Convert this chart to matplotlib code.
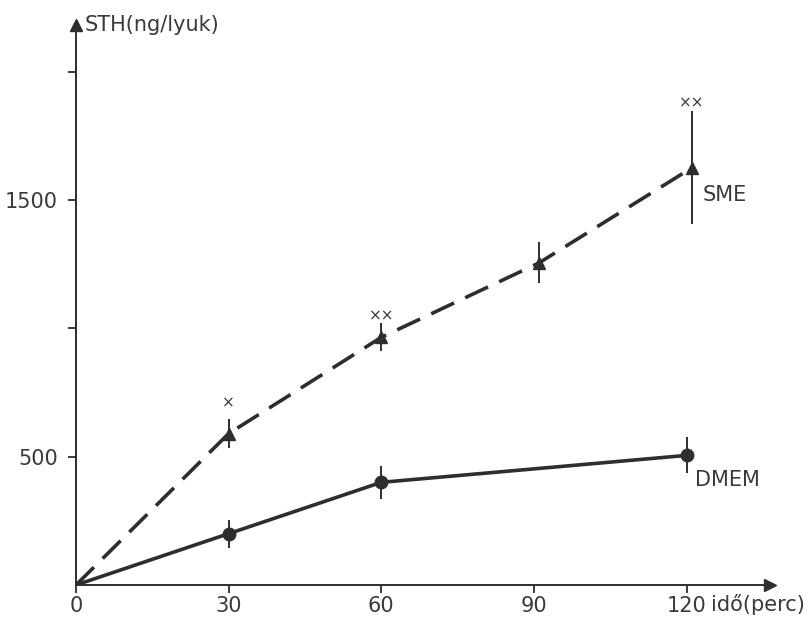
import matplotlib
matplotlib.use("Agg")
import matplotlib.pyplot as plt

# data
time_min = [0, 30, 60, 90, 120]
sme_x = [0, 30, 60, 91, 121]
sme_y = [0, 590, 965, 1255, 1625]
sme_err = [0, 55, 55, 80, 220]
dmem_x = [0, 30, 60, 120]
dmem_y = [0, 200, 400, 505]
dmem_err = [0, 55, 65, 70]
sig_x = [30, 60, 121]
sig_y = [710, 1050, 1880]
sig_txt = ["×", "××", "××"]
yticks = [500, 1000, 1500, 2000]
ytick_labels = ["500", "", "1500", ""]

ink = "#2e2e2e"
txt = "#3a3a3a"
plt.rcParams["font.family"] = ["DejaVu Sans"]

fig = plt.figure(figsize=(8.07, 6.2), dpi=100)
ax = fig.add_axes([76 / 807, 35 / 620, 694 / 807, 560 / 620])
ax.set_xlim(0, 136.4)
ax.set_ylim(0, 2182)

for side in ("top", "right"):
    ax.spines[side].set_visible(False)
for side in ("left", "bottom"):
    ax.spines[side].set_color(ink)
    ax.spines[side].set_linewidth(1.4)

# axis arrows
ax.plot(1, 0, ">", color=ink, ms=9, transform=ax.get_yaxis_transform(), clip_on=False)
ax.plot(0, 1, "^", color=ink, ms=9, transform=ax.get_xaxis_transform(), clip_on=False)

ax.set_xticks(time_min)
ax.set_xticklabels([str(t) for t in time_min])
ax.set_yticks(yticks)
ax.set_yticklabels(ytick_labels)
ax.tick_params(colors=ink, labelcolor=txt, labelsize=15, length=6, width=1.3)
ax.tick_params(axis="x", pad=2)
ax.tick_params(axis="y", pad=7)

# SME dashed with triangles
ax.plot(sme_x, sme_y, color=ink, lw=2.6, dashes=(7, 3.4), zorder=3)
ax.errorbar(sme_x[1:], sme_y[1:], yerr=sme_err[1:], fmt="^", color=ink, ms=9,
            elinewidth=1.4, capsize=0, zorder=4)

# DMEM solid with circles
ax.plot(dmem_x, dmem_y, color=ink, lw=2.6, zorder=3)
ax.errorbar(dmem_x[1:], dmem_y[1:], yerr=dmem_err[1:], fmt="o", color=ink, ms=9,
            elinewidth=1.4, capsize=0, zorder=4)

for x, y, s in zip(sig_x, sig_y, sig_txt):
    ax.text(x, y, s, ha="center", va="center", fontsize=11, color=txt)

ax.text(123.2, 1519, "SME", ha="left", va="center", fontsize=15, color=txt)
ax.text(121.6, 409, "DMEM", ha="left", va="center", fontsize=15, color=txt)
ax.text(124.8, -36, "idő(perc)", ha="left", va="top", fontsize=15, color=txt,
        clip_on=False)
ax.text(1.6, 2182, "STH(ng/lyuk)", ha="left", va="center", fontsize=15, color=txt,
        clip_on=False)

fig.savefig("out.png", dpi=100)
